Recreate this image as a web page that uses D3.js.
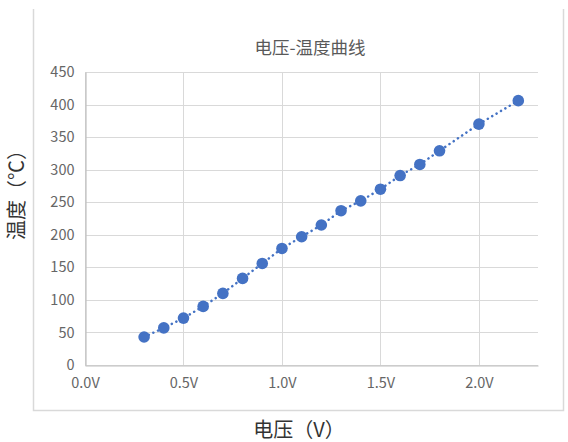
<!DOCTYPE html>
<html><head><meta charset="utf-8">
<script src="https://cdn.jsdelivr.net/npm/d3@7"></script>
<style>body{margin:0;background:#fff}</style>
</head><body>
<svg id="c" width="568" height="442"></svg>
<script>
const voltages = [0.3,0.4,0.5,0.6,0.7,0.8,0.9,1.0,1.1,1.2,1.3,1.4,1.5,1.6,1.7,1.8,2.0,2.2];
const temps = [43,57,72,90,110,133,156,179,197,215,237,252,270,291,308,329,370,406];
const xTicks = [0,0.5,1.0,1.5,2.0];
const yTicks = [0,50,100,150,200,250,300,350,400,450];
const title = "电压-温度曲线";
const xTitle = "电压（V）";
const yTitle = "温度（℃）";

const svg = d3.select("#c");
const font = "'Noto Sans CJK SC','Noto Sans',sans-serif";
const L=85, R=538, T=72, B=365;
const x = d3.scaleLinear().domain([0,2.3]).range([L,R]);
const y = d3.scaleLinear().domain([0,450]).range([B,T]);

// chart border (left, right, bottom)
svg.append("path").attr("d","M33.5,9 V410.5 H563.5 V9").attr("fill","none").attr("stroke","#d9d9d9").attr("stroke-width",1.5);

// gridlines
svg.append("g").selectAll("line").data(yTicks).join("line")
  .attr("x1",L).attr("x2",R).attr("y1",d=>Math.round(y(d))+0.5).attr("y2",d=>Math.round(y(d))+0.5)
  .attr("stroke","#d9d9d9").attr("stroke-width",1);
svg.append("g").selectAll("line").data(xTicks).join("line")
  .attr("y1",T).attr("y2",B).attr("x1",d=>Math.round(x(d))+0.5).attr("x2",d=>Math.round(x(d))+0.5)
  .attr("stroke","#d9d9d9").attr("stroke-width",1);

// axes
const xa = svg.append("g").attr("transform",`translate(0,${Math.round(B)+0.5})`)
  .call(d3.axisBottom(x).tickValues(xTicks).tickFormat(d=>d3.format(".1f")(d)+"V").tickSize(0).tickPadding(12));
xa.select(".domain").attr("stroke","#bfbfbf").attr("stroke-width",1.2);
xa.selectAll("text").attr("fill","#666").attr("font-size",14.5).attr("font-family",font);
const ya = svg.append("g").attr("transform",`translate(${L+0.5},0)`)
  .call(d3.axisLeft(y).tickValues(yTicks).tickSize(0).tickPadding(11));
ya.select(".domain").attr("stroke","#bfbfbf").attr("stroke-width",1.2);
ya.selectAll("text").attr("fill","#666").attr("font-size",14.5).attr("font-family",font);

// line
const data = voltages.map((v,i)=>({v,t:temps[i]}));
svg.append("path").datum(data)
  .attr("d", d3.line().x(d=>x(d.v)).y(d=>y(d.t)))
  .attr("fill","none").attr("stroke","#4472C4").attr("stroke-width",2.5)
  .attr("stroke-dasharray","0.1 5").attr("stroke-linecap","round");
svg.append("g").selectAll("circle").data(data).join("circle")
  .attr("cx",d=>x(d.v)).attr("cy",d=>y(d.t)).attr("r",5.8).attr("fill","#4472C4");

// titles
svg.append("text").attr("x",310).attr("y",54).attr("text-anchor","middle")
  .attr("font-size",17.5).attr("fill","#595959").attr("font-family",font).text(title);
svg.append("text").attr("x",299).attr("y",437).attr("text-anchor","middle")
  .attr("font-size",20).attr("fill","#333").attr("font-family",font).text(xTitle);
svg.append("text").attr("transform","translate(24,190) rotate(-90)").attr("text-anchor","middle")
  .attr("font-size",20).attr("fill","#333").attr("font-family",font).text(yTitle);
</script>
</body></html>
